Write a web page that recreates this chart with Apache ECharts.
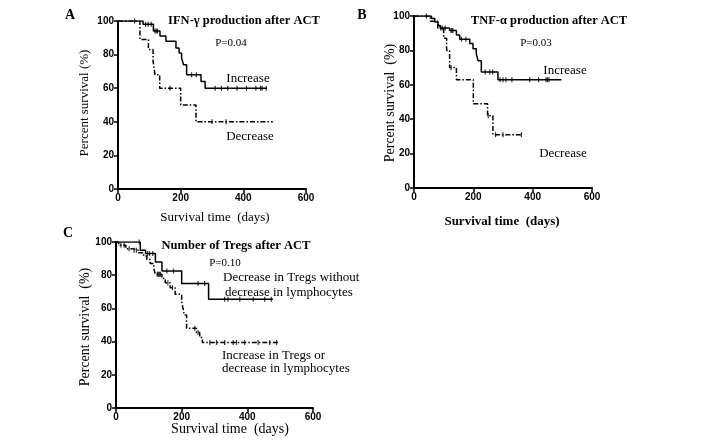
<!DOCTYPE html>
<html><head><meta charset="utf-8">
<script src="https://cdn.jsdelivr.net/npm/echarts@6/dist/echarts.min.js"></script>
<style>html,body{margin:0;padding:0;background:#fff}#c{width:708px;height:443px}</style>
</head><body><div id="c"></div>
<script>
// ---- data ----
const xTicks = [0, 200, 400, 600];
const yTicks = [0, 20, 40, 60, 80, 100];

// Panel A: IFN-gamma
const aIncTimes = [0, 80, 113, 134, 153, 185, 195, 203, 209, 219, 265, 278, 475];
const aIncSurv  = [100, 98, 94, 91, 88, 84, 81, 78, 74, 68, 64, 60, 60];
const aIncCensor = [53, 88, 96, 106, 118, 122, 126, 235, 250, 310, 330, 350, 380, 410, 440, 455, 460, 473];
const aDecTimes = [0, 70, 97, 112, 118, 133, 200, 249, 494];
const aDecSurv  = [100, 89, 83, 76, 68, 60, 50, 40, 40];
const aDecCensor = [166, 300, 345];

// Panel B: TNF-alpha
const bIncTimes = [0, 59, 70, 81, 88, 120, 143, 154, 188, 199, 210, 216, 227, 283, 497];
const bIncSurv  = [100, 98.5, 96.5, 94.5, 93, 91.5, 89, 86.5, 84, 81, 78, 74, 67.5, 63, 63];
const bIncCensor = [42, 95, 105, 125, 128, 131, 160, 175, 240, 255, 265, 290, 300, 310, 330, 390, 420, 445, 450, 455];
const bDecTimes = [0, 55, 80, 100, 110, 120, 143, 200, 248, 266, 362];
const bDecSurv  = [100, 97, 93, 87, 80, 70, 63, 49, 42, 31, 31];
const bDecCensor = [90, 125, 250, 275, 300, 362];

// Panel C: Tregs
const cDecTimes = [0, 74, 90, 120, 140, 200, 282, 478];
const cDecSurv  = [100, 95, 93, 88, 82.5, 75, 65.5, 65.5];
const cDecCensor = [71, 96, 102, 112, 155, 175, 250, 270, 331, 341, 377, 418, 453, 473];
const cIncTimes = [0, 8, 30, 49, 69, 84, 94, 104, 115, 120, 140, 150, 165, 180, 200, 204, 208, 215, 245, 255, 263, 494];
const cIncSurv  = [100, 98, 96, 95, 93.5, 91.5, 89.5, 87, 84, 80.5, 78, 75.5, 72.5, 68.5, 64, 60, 56, 48, 45.5, 42.5, 39.5, 39.5];
const cIncCensor = [15, 25, 40, 55, 62, 126, 129, 132, 135, 158, 172, 240, 250, 286, 306, 331, 357, 367, 392, 433, 468, 489];

// ---- helpers ----
function pairs(t, s) { return t.map((v, i) => [v, s[i]]); }
function levelAt(t, s, d) { let v = s[0]; for (let i = 0; i < t.length; i++) { if (t[i] <= d) v = s[i]; } return v; }
function censorPts(t, s, c) { return c.map(d => [d, levelAt(t, s, d)]); }

const serif = 'Liberation Serif';
const sans = 'Liberation Sans';
const grids = [
  {left: 118, top: 21, width: 188, height: 168},
  {left: 414, top: 16, width: 178, height: 172},
  {left: 116, top: 242, width: 197, height: 166}
];
function xAx(i) {
  return {type: 'value', gridIndex: i, min: xTicks[0], max: xTicks[xTicks.length - 1], interval: xTicks[1] - xTicks[0],
    axisLine: {lineStyle: {color: '#000', width: 2}}, axisTick: {length: 4, lineStyle: {color: '#000', width: 1.5}},
    axisLabel: {color: '#000', fontFamily: sans, fontWeight: 'bold', fontSize: 10, margin: 4},
    splitLine: {show: false}};
}
function yAx(i) {
  return {type: 'value', gridIndex: i, min: yTicks[0], max: yTicks[yTicks.length - 1], interval: yTicks[1] - yTicks[0],
    axisLine: {show: true, lineStyle: {color: '#000', width: 2}}, axisTick: {show: true, length: 4, lineStyle: {color: '#000', width: 1.5}},
    axisLabel: {color: '#000', fontFamily: sans, fontWeight: 'bold', fontSize: 10, margin: 4},
    splitLine: {show: false}};
}
const dashDot = [5, 2, 1.5, 2];
function curve(i, t, s, dashed) {
  return {type: 'line', xAxisIndex: i, yAxisIndex: i, step: 'end', data: pairs(t, s), symbol: 'none',
    lineStyle: {color: '#000', width: 1.5, type: dashed ? dashDot : 'solid'}, animation: false, z: 3};
}
function cens(i, t, s, c) {
  return {type: 'scatter', xAxisIndex: i, yAxisIndex: i, data: censorPts(t, s, c), symbol: 'rect', symbolSize: [1.2, 5],
    itemStyle: {color: '#000'}, animation: false, z: 4};
}
function txt(x, y, text, opts) {
  return {type: 'text', x: x, y: y, style: Object.assign({text: text, fill: '#000', font: '13px ' + serif, align: 'center', verticalAlign: 'middle'}, opts || {})};
}
function rtxt(x, y, text, font) {
  return {type: 'text', x: x, y: y, rotation: Math.PI / 2, style: {text: text, fill: '#000', font: font, align: 'center', verticalAlign: 'middle'}};
}

const chart = echarts.init(document.getElementById('c'), null, {renderer: 'canvas'});
chart.setOption({
  backgroundColor: '#fff',
  animation: false,
  grid: grids,
  xAxis: [xAx(0), xAx(1), xAx(2)],
  yAxis: [yAx(0), yAx(1), yAx(2)],
  series: [
    curve(0, aIncTimes, aIncSurv, false), cens(0, aIncTimes, aIncSurv, aIncCensor),
    curve(0, aDecTimes, aDecSurv, true), cens(0, aDecTimes, aDecSurv, aDecCensor),
    curve(1, bIncTimes, bIncSurv, false), cens(1, bIncTimes, bIncSurv, bIncCensor),
    curve(1, bDecTimes, bDecSurv, true), cens(1, bDecTimes, bDecSurv, bDecCensor),
    curve(2, cDecTimes, cDecSurv, false), cens(2, cDecTimes, cDecSurv, cDecCensor),
    curve(2, cIncTimes, cIncSurv, true), cens(2, cIncTimes, cIncSurv, cIncCensor)
  ],
  graphic: [
    txt(70, 15, 'A', {font: 'bold 14px ' + serif}),
    txt(362, 15, 'B', {font: 'bold 14px ' + serif}),
    txt(68, 233, 'C', {font: 'bold 14px ' + serif}),
    txt(244, 21, 'IFN-γ production after ACT', {font: 'bold 12.5px ' + serif}),
    txt(231, 43, 'P=0.04', {font: '11px ' + serif}),
    txt(248, 79, 'Increase'),
    txt(250, 137, 'Decrease'),
    txt(549, 21, 'TNF-α production after ACT', {font: 'bold 12.5px ' + serif}),
    txt(536, 43, 'P=0.03', {font: '11px ' + serif}),
    txt(565, 71, 'Increase'),
    txt(563, 154, 'Decrease'),
    txt(236, 246, 'Number of Tregs after ACT', {font: 'bold 12.5px ' + serif}),
    txt(225, 263, 'P=0.10', {font: '11px ' + serif}),
    txt(223, 278, 'Decrease in Tregs without', {align: 'left'}),
    txt(225, 293, 'decrease in lymphocytes', {align: 'left'}),
    txt(222, 356, 'Increase in Tregs or', {align: 'left'}),
    txt(222, 369, 'decrease in lymphocytes', {align: 'left'}),
    rtxt(85, 103, 'Percent survival (%)', '13px ' + serif),
    rtxt(390, 103, 'Percent survival  (%)', '14px ' + serif),
    rtxt(85, 327, 'Percent survival  (%)', '14px ' + serif),
    txt(215, 218, 'Survival time  (days)'),
    txt(502, 222, 'Survival time  (days)', {font: 'bold 13px ' + serif}),
    txt(230, 429, 'Survival time  (days)', {font: '14px ' + serif})
  ]
});
</script></body></html>
